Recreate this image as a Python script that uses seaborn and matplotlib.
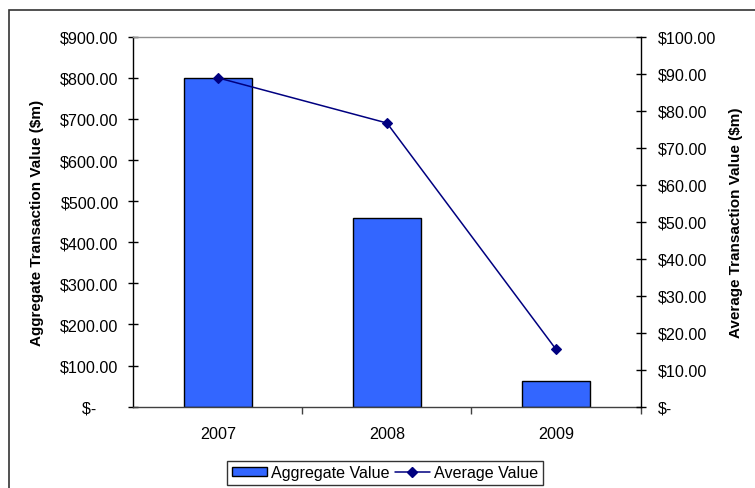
import matplotlib
matplotlib.use("Agg")
import matplotlib.pyplot as plt
import matplotlib.ticker as mticker
from matplotlib.patches import Patch, Rectangle
from matplotlib.lines import Line2D
import numpy as np
import pandas as pd
import seaborn as sns

years = ["2007", "2008", "2009"]
aggregate_value = [800.0, 460.0, 62.0]
average_value = [88.89, 76.67, 15.5]

left_ticks = [0, 100, 200, 300, 400, 500, 600, 700, 800, 900]
right_ticks = [0, 10, 20, 30, 40, 50, 60, 70, 80, 90, 100]

sns.set_theme(style="white")
plt.rcParams["font.family"] = ["Liberation Sans", "DejaVu Sans"]
plt.rcParams["text.color"] = "black"
plt.rcParams["axes.labelcolor"] = "black"

df = pd.DataFrame({"Year": years, "Aggregate": aggregate_value, "Average": average_value})

fig = plt.figure(figsize=(7.55, 4.89), dpi=100)
ax = fig.add_axes([0.1766, 0.1663, 0.6718, 0.7566])

bar_color = "#3366FF"
line_color = "#000080"
tick_fs = 11.6

sns.barplot(data=df, x="Year", y="Aggregate", ax=ax, color=bar_color,
            saturation=1, width=0.40, edgecolor="black", linewidth=1.0)

ax2 = ax.twinx()
sns.pointplot(data=df, x="Year", y="Average", ax=ax2, color=line_color,
              markers="D", markersize=5, linewidth=1.1, errorbar=None)

ax.set_xlim(-0.5, 2.5)
ax.set_ylim(0, 900)
ax2.set_ylim(0, 100)


def money(v, pos=None):
    if abs(v) < 1e-9:
        return "$-"
    return f"${v:.2f}"


def money_left(v, pos=None):
    if abs(v) < 1e-9:
        return "$-     "
    return f"${v:.2f}"


ax.yaxis.set_major_locator(mticker.FixedLocator(left_ticks))
ax.yaxis.set_major_formatter(mticker.FuncFormatter(money_left))
ax2.yaxis.set_major_locator(mticker.FixedLocator(right_ticks))
ax2.yaxis.set_major_formatter(mticker.FuncFormatter(money))

ax.set_xlabel("")
ax.set_ylabel("Aggregate Transaction Value ($m)", fontsize=11,
              fontweight="bold", labelpad=12, color="black")
ax2.set_ylabel("Average Transaction Value ($m)", fontsize=11,
               fontweight="bold", labelpad=9, color="black")

for a in (ax, ax2):
    a.grid(False)
    a.set_facecolor("none")
    for s in a.spines.values():
        s.set_visible(False)

ax.patch.set_facecolor("white")

ax.spines["left"].set_visible(True)
ax.spines["left"].set_color("black")
ax.spines["left"].set_linewidth(1.0)
ax.spines["bottom"].set_visible(True)
ax.spines["bottom"].set_color("#404040")
ax.spines["bottom"].set_linewidth(1.0)
ax.spines["top"].set_visible(True)
ax.spines["top"].set_color("#909090")
ax.spines["top"].set_linewidth(1.0)
ax2.spines["right"].set_visible(True)
ax2.spines["right"].set_color("black")
ax2.spines["right"].set_linewidth(1.0)

ax.tick_params(axis="y", which="major", left=True, direction="inout",
               length=7, width=1, color="black", labelsize=tick_fs, pad=7,
               labelcolor="black")
ax2.tick_params(axis="y", which="major", right=True, direction="inout",
                length=7, width=1, color="black", labelsize=tick_fs, pad=9,
                labelcolor="black")

# category labels sit between boundary ticks
ax.xaxis.set_minor_locator(mticker.FixedLocator([0.5, 1.5, 2.5]))
ax.tick_params(axis="x", which="major", bottom=True, length=0,
               labelsize=tick_fs, pad=14, labelcolor="black")
ax.tick_params(axis="x", which="minor", bottom=True, direction="out",
               length=5, width=1, color="#404040")
ax2.tick_params(axis="x", which="both", bottom=False, top=False)

handles = [
    Patch(facecolor=bar_color, edgecolor="black", linewidth=1.0,
          label="Aggregate Value"),
    Line2D([], [], color=line_color, linewidth=1.1, marker="D",
           markersize=5, label="Average Value"),
]
leg = fig.legend(handles=handles, loc="center", bbox_to_anchor=(0.51, 0.031),
                 ncol=2, frameon=True, fancybox=False, fontsize=tick_fs,
                 handlelength=2.2, handleheight=0.5, columnspacing=0.3,
                 handletextpad=0.25, borderpad=0.3, edgecolor="black",
                 labelcolor="black")
leg.get_frame().set_linewidth(1.0)

# chart-area border
fig.patches.append(Rectangle((9 / 755, -0.2), 1.2, 0.2 + (1 - 11 / 489),
                             transform=fig.transFigure, fill=False,
                             edgecolor="#333333", linewidth=1.2))

fig.savefig("out.png", dpi=100)
